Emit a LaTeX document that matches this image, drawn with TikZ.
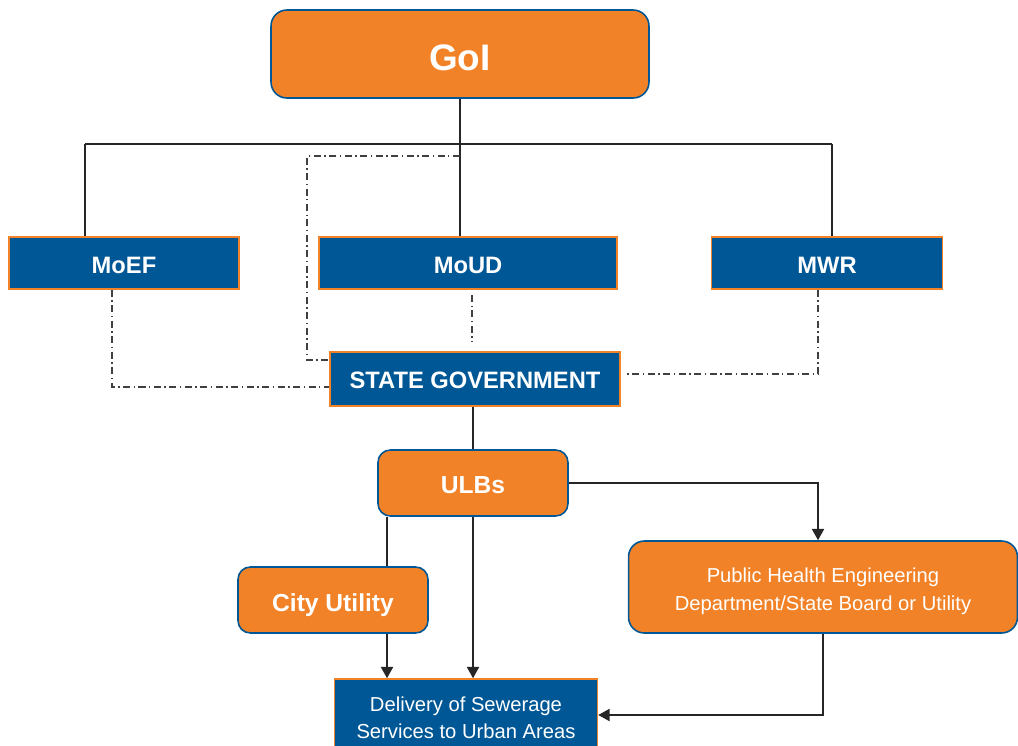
\documentclass[tikz,border=0pt]{standalone}
\usepackage{fontspec}
\setmainfont{Liberation Sans}
\usetikzlibrary{arrows.meta}

\definecolor{govorange}{HTML}{F28227}
\definecolor{govblue}{HTML}{005796}

\tikzset{
    orgbox/.style={draw=govblue, fill=govorange, line width=0.9pt, rounded corners=7pt,
        text=white, align=center, inner sep=0pt},
    minbox/.style={draw=govorange, fill=govblue, line width=0.9pt,
        text=white, align=center, inner sep=0pt},
    oneline/.style={text height=#1, text depth=0pt},
    link/.style={draw=black!85, line width=0.8pt},
    dotlink/.style={draw=black!75, line width=0.8pt, dash pattern=on 4pt off 2pt on 0.8pt off 2pt},
    arr/.style={link, -{Triangle[length=6.5pt,width=7pt]}}
}

\begin{document}
\begin{tikzpicture}[x=0.02cm, y=-0.02cm]
    % Page frame (pixel grid of the reference)
    \useasboundingbox (0, 0) rectangle (1018, 745);

    % Top level
    \node[orgbox, oneline=18.4pt, minimum width=7.56cm, minimum height=1.76cm, rounded corners=9pt,
          font=\fontsize{21}{25}\selectfont\bfseries] (goi) at (460, 54) {GoI};

    % Ministries
    \node[minbox, oneline=11.4pt, minimum width=4.6cm, minimum height=1.04cm,
          font=\fontsize{13.5}{16}\selectfont\bfseries] (moef) at (124, 263) {MoEF};
    \node[minbox, oneline=11.4pt, minimum width=5.96cm, minimum height=1.04cm,
          font=\fontsize{13.5}{16}\selectfont\bfseries] (moud) at (468, 263) {MoUD};
    \node[minbox, oneline=11.4pt, minimum width=4.62cm, minimum height=1.04cm,
          font=\fontsize{13.5}{16}\selectfont\bfseries] (mwr) at (827, 263) {MWR};

    % State level
    \node[minbox, oneline=11.2pt, minimum width=5.8cm, minimum height=1.08cm,
          font=\fontsize{13.5}{16}\selectfont\bfseries] (state) at (475, 379) {STATE GOVERNMENT};

    % Local bodies and utilities
    \node[orgbox, oneline=11.6pt, minimum width=3.8cm, minimum height=1.32cm,
          font=\fontsize{14}{16}\selectfont\bfseries] (ulb) at (473, 483) {ULBs};
    \node[orgbox, oneline=12.6pt, minimum width=3.8cm, minimum height=1.32cm,
          font=\fontsize{14}{16}\selectfont\bfseries] (city) at (333, 600) {City Utility};
    \node[orgbox, minimum width=7.78cm, minimum height=1.84cm, rounded corners=9pt,
          font=\fontsize{11.5}{16}\selectfont] (phed) at (823, 587)
          {\rule{0pt}{13pt}Public Health Engineering\\Department/State Board or Utility};
    \node[minbox, minimum width=5.26cm, minimum height=1.44cm,
          font=\fontsize{11.5}{15.3}\selectfont] (dlv) at (466, 715)
          {\rule{0pt}{11pt}Delivery of Sewerage\\Services to Urban Areas};

    % Bus from GoI to the ministries
    \coordinate (busL) at (85, 144);
    \coordinate (busR) at (832, 144);
    \draw[link] (busL) -- (busR);
    \draw[link] (goi.south) -- (goi.south |- moud.north);
    \draw[link] (busL) -- (busL |- moef.north);
    \draw[link] (busR) -- (busR |- mwr.north);

    % Dash-dot links to the state government
    \coordinate (gtop) at (460, 156);
    \coordinate (gcor) at (307, 156);
    \coordinate (gbot) at (307, 360);
    \draw[dotlink] (gtop) -- (gcor) -- (gbot) -- (gbot -| state.west);
    \coordinate (efb) at (112, 387);
    \draw[dotlink] (efb |- moef.south) -- (efb) -- (efb -| state.west);
    \coordinate (udx) at (472, 295);
    \draw[dotlink] (udx) -- ([yshift=5pt]udx |- state.north);
    \coordinate (wrb) at (818, 374);
    \draw[dotlink] (wrb |- mwr.south) -- (wrb) -- ([xshift=3pt]wrb -| state.east);

    % Solid links below the state
    \draw[link] (state.south -| ulb.north) -- (ulb.north);
    \draw[arr] (ulb.east) -| (phed.north -| wrb);
    \coordinate (cux) at (387, 0);
    \draw[link] (ulb.south -| cux) -- (city.north -| cux);
    \draw[arr] (city.south -| cux) -- (dlv.north -| cux);
    \draw[arr] (ulb.south) -- (ulb.south |- dlv.north);
    \draw[arr] (phed.south) |- (dlv.east);

\end{tikzpicture}
\end{document}
